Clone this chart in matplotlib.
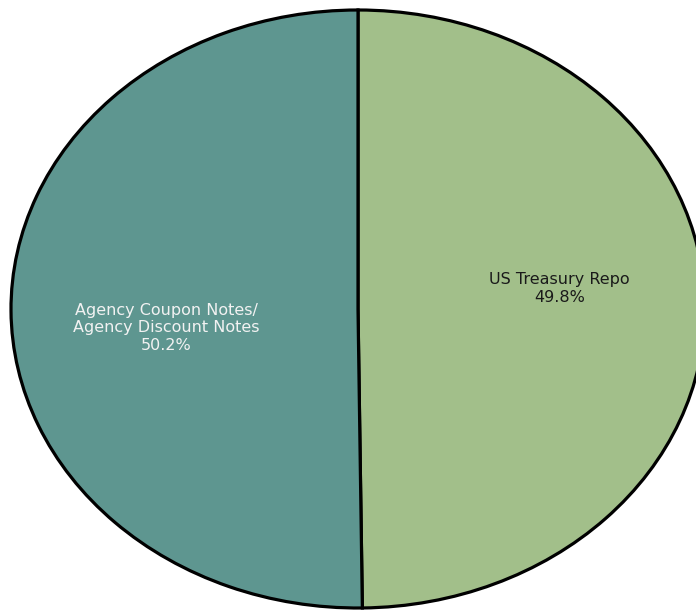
import numpy as np
import matplotlib
matplotlib.use("Agg")
import matplotlib.pyplot as plt

# Portfolio composition
categories = ["US Treasury Repo", "Agency Coupon Notes/\nAgency Discount Notes"]
shares = [49.8, 50.2]
colors = ["#A2BF8A", "#5E9690"]
text_colors = ["#1a1a1a", "#f2f2f2"]

fig = plt.figure(figsize=(6.96, 6.11), dpi=100)
W, H = 696, 611
# the pie is drawn as a stretched ellipse that runs past the right edge
left, right, top, bottom = 11, 705, 10, 608
ax = fig.add_axes([left / W, (H - bottom) / H, (right - left) / W, (bottom - top) / H])

wedges, _ = ax.pie(
    shares,
    colors=colors,
    startangle=90,
    counterclock=False,
    radius=1.0,
    wedgeprops=dict(edgecolor="black", linewidth=2.3),
)
ax.set_xlim(-1, 1)
ax.set_ylim(-1, 1)
ax.set_aspect("auto")
ax.axis("off")
for w in wedges:
    w.set_clip_on(False)

# labels placed along each wedge's mid-angle
offsets = [0.065, -0.06]
radii = [0.58, 0.553]
for w, cat, val, tc, dy, r in zip(wedges, categories, shares, text_colors, offsets, radii):
    ang = np.deg2rad((w.theta1 + w.theta2) / 2)
    x = r * np.cos(ang)
    y = r * np.sin(ang) + dy
    ax.text(x, y, f"{cat}\n{val:.1f}%", ha="center", va="center",
            fontsize=11.5, color=tc, linespacing=1.22, family="DejaVu Sans")

fig.savefig("out.png", dpi=100)
